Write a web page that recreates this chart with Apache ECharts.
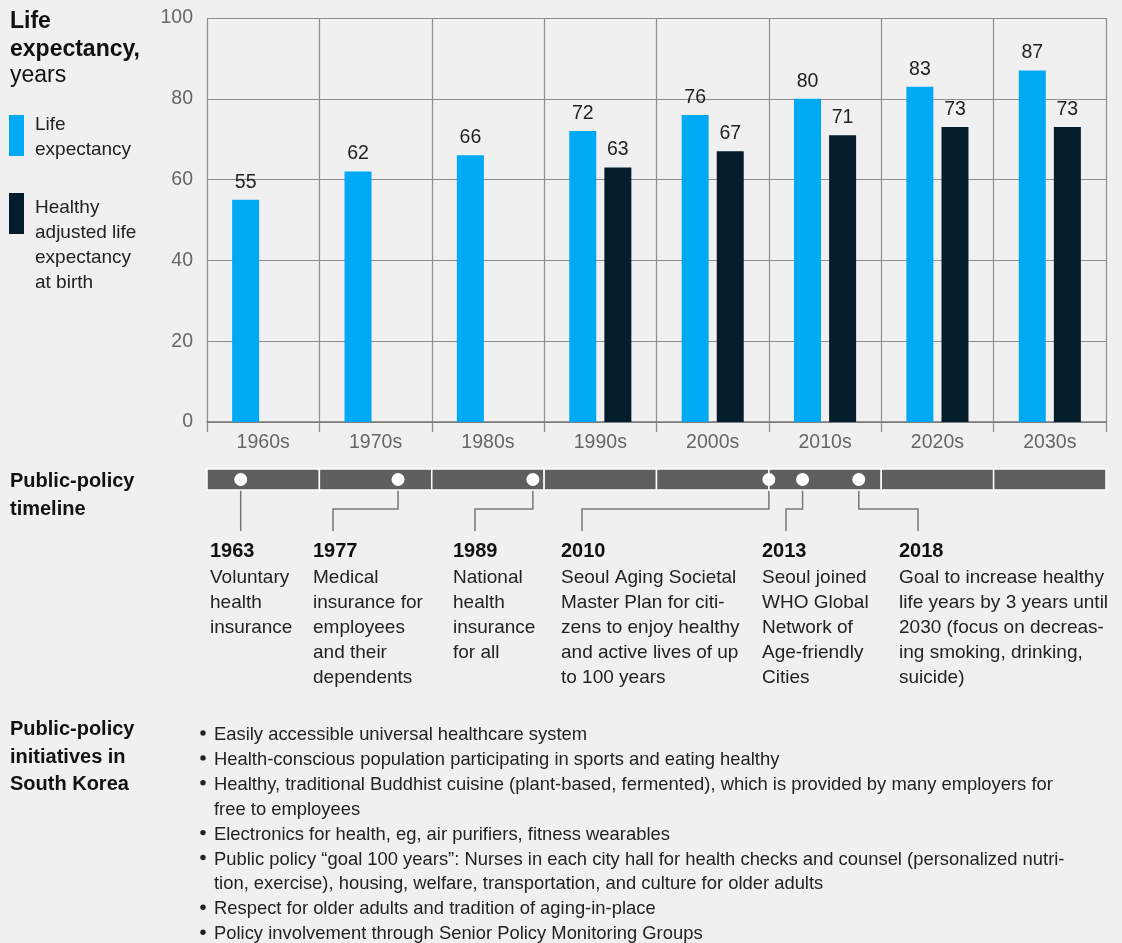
<!DOCTYPE html>
<html><head><meta charset="utf-8">
<script src="https://cdn.jsdelivr.net/npm/echarts@6/dist/echarts.min.js"></script>
<style>html,body{margin:0;padding:0;background:#f0f0f0}#c{width:1122px;height:943px}</style>
</head><body><div id="c"></div>
<script>
// ---- data ----
const categories = ['1960s','1970s','1980s','1990s','2000s','2010s','2020s','2030s'];
const lifeExpectancy = [55, 62, 66, 72, 76, 80, 83, 87];
const healthyLifeExpectancy = [null, null, null, 63, 67, 71, 73, 73];
const yTicks = [0, 20, 40, 60, 80, 100];
const decadeStarts = [1960, 1970, 1980, 1990, 2000, 2010, 2020, 2030];
const eventYears = [1963, 1977, 1989, 2010, 2013, 2018];
const eventTexts = [
  'Voluntary\nhealth\ninsurance',
  'Medical\ninsurance for\nemployees\nand their\ndependents',
  'National\nhealth\ninsurance\nfor all',
  'Seoul Aging Societal\nMaster Plan for citi-\nzens to enjoy healthy\nand active lives of up\nto 100 years',
  'Seoul joined\nWHO Global\nNetwork of\nAge-friendly\nCities',
  'Goal to increase healthy\nlife years by 3 years until\n2030 (focus on decreas-\ning smoking, drinking,\nsuicide)'
];
const initiatives = [
  'Easily accessible universal healthcare system',
  'Health-conscious population participating in sports and eating healthy',
  'Healthy, traditional Buddhist cuisine (plant-based, fermented), which is provided by many employers for\nfree to employees',
  'Electronics for health, eg, air purifiers, fitness wearables',
  'Public policy \u201cgoal 100 years\u201d: Nurses in each city hall for health checks and counsel (personalized nutri-\ntion, exercise), housing, welfare, transportation, and culture for older adults',
  'Respect for older adults and tradition of aging-in-place',
  'Policy involvement through Senior Policy Monitoring Groups'
];

// ---- layout (pixels) ----
const FONT = 'Liberation Sans';
const eventTextX = [210, 313, 453, 561, 762, 899];
const connectorX = [null, 333, 475, 582, 786, 918];
const COLORS = { life: '#00a9f4', healthy: '#051c2c', grid: '#8e8e8e', axisText: '#666666', text: '#222222' };

const chart = echarts.init(document.getElementById('c'), null, { renderer: 'canvas' });

const graphics = [];
// Left titles
graphics.push({ type: 'text', left: 10, top: 7.5, style: { text: 'Life\nexpectancy,', font: 'bold 23px ' + FONT, fill: '#111', lineHeight: 28 } });
graphics.push({ type: 'text', left: 10, top: 64, style: { text: 'years', font: '23px ' + FONT, fill: '#111' } });
// legend
graphics.push({ type: 'rect', shape: { x: 9, y: 115, width: 15, height: 41 }, style: { fill: COLORS.life } });
graphics.push({ type: 'text', left: 35, top: 112, style: { text: 'Life\nexpectancy', font: '19px ' + FONT, fill: '#222', lineHeight: 25 } });
graphics.push({ type: 'rect', shape: { x: 9, y: 193, width: 15, height: 41 }, style: { fill: COLORS.healthy } });
graphics.push({ type: 'text', left: 35, top: 195.5, style: { text: 'Healthy\nadjusted life\nexpectancy\nat birth', font: '19px ' + FONT, fill: '#222', lineHeight: 25 } });
// timeline title
graphics.push({ type: 'text', left: 10, top: 467, style: { text: 'Public-policy\ntimeline', font: 'bold 20px ' + FONT, fill: '#111', lineHeight: 28 } });
// event text
eventYears.forEach((yr, i) => {
  graphics.push({ type: 'text', left: eventTextX[i], top: 541.5, style: { text: String(yr), font: 'bold 20px ' + FONT, fill: '#111' } });
  graphics.push({ type: 'text', left: eventTextX[i], top: 565.5, style: { text: eventTexts[i], font: '19px ' + FONT, fill: '#222', lineHeight: 25 } });
});
// initiatives
graphics.push({ type: 'text', left: 10, top: 716, style: { text: 'Public-policy\ninitiatives in\nSouth Korea', font: 'bold 20px ' + FONT, fill: '#111', lineHeight: 27.5 } });
let line = 0;
initiatives.forEach((t) => {
  const y = 735 + line * 24.9;
  graphics.push({ type: 'circle', shape: { cx: 203, cy: y - 2, r: 2.7 }, style: { fill: '#222' } });
  graphics.push({ type: 'text', left: 214, top: y - 12.45, style: { text: t, font: '18.4px ' + FONT, fill: '#222', lineHeight: 24.9 } });
  line += t.split('\n').length;
});

const option = {
  backgroundColor: '#f0f0f0',
  animation: false,
  textStyle: { fontFamily: FONT },
  grid: [
    { left: 207, right: 16, top: 18, bottom: 521 },
    { left: 207, right: 16, top: 469, height: 21 }
  ],
  xAxis: [
    {
      type: 'category', data: categories, gridIndex: 0,
      axisLine: { lineStyle: { color: '#777', width: 1.5 } },
      axisTick: { show: true, length: 10, lineStyle: { color: '#888', width: 1.2 } },
      axisLabel: { color: COLORS.axisText, fontSize: 19.5, margin: 11, fontFamily: FONT },
      splitLine: { show: true, lineStyle: { color: COLORS.grid, width: 1.2 } }
    },
    { type: 'value', gridIndex: 1, min: 1960, max: 2040, show: false }
  ],
  yAxis: [
    {
      type: 'value', gridIndex: 0, min: 0, max: 100, interval: 20,
      axisLine: { show: false }, axisTick: { show: false },
      axisLabel: { color: COLORS.axisText, fontSize: 19.5, margin: 14, fontFamily: FONT,
        formatter: (v) => yTicks.includes(v) ? String(v) : '' },
      splitLine: { lineStyle: { color: COLORS.grid, width: 1.2 } }
    },
    { type: 'value', gridIndex: 1, min: 0, max: 1, show: false }
  ],
  series: [
    {
      name: 'Life expectancy', type: 'bar', data: lifeExpectancy, xAxisIndex: 0, yAxisIndex: 0,
      barWidth: 27, barGap: '30%', itemStyle: { color: COLORS.life },
      label: { show: true, position: 'top', distance: 7.5, color: COLORS.text, fontSize: 19.5, fontFamily: FONT }
    },
    {
      name: 'Healthy adjusted life expectancy at birth', type: 'bar', data: healthyLifeExpectancy, xAxisIndex: 0, yAxisIndex: 0,
      barWidth: 27, barGap: '30%', itemStyle: { color: COLORS.healthy },
      label: { show: true, position: 'top', distance: 7.5, color: COLORS.text, fontSize: 19.5, fontFamily: FONT }
    },
    {
      type: 'custom', xAxisIndex: 1, yAxisIndex: 1, silent: true,
      data: decadeStarts.map((d) => [d, d + 10]),
      renderItem: (params, api) => {
        const s = api.coord([api.value(0), 0]);
        const e = api.coord([api.value(1), 1]);
        return { type: 'rect', shape: { x: s[0], y: e[1], width: e[0] - s[0], height: s[1] - e[1] },
          style: { fill: '#5f5f5f', stroke: '#ffffff', lineWidth: 1.5 } };
      }
    },
    {
      type: 'custom', xAxisIndex: 1, yAxisIndex: 1, silent: true, z: 1,
      data: eventYears.map((y) => [y]),
      renderItem: (params, api) => {
        const p = api.coord([api.value(0), 0]);
        const cx = connectorX[params.dataIndex];
        const pts = cx == null
          ? [[p[0], p[1]], [p[0], 531]]
          : [[p[0], p[1]], [p[0], 509], [cx, 509], [cx, 531]];
        return { type: 'polyline', shape: { points: pts }, style: { stroke: '#777', lineWidth: 1.5, fill: null } };
      }
    },
    {
      type: 'scatter', xAxisIndex: 1, yAxisIndex: 1, silent: true, z: 5,
      data: eventYears.map((y) => [y, 0.5]),
      symbol: 'circle', symbolSize: 13, itemStyle: { color: '#ffffff', opacity: 1 }
    }
  ],
  graphic: graphics
};
chart.setOption(option);
</script>
</body></html>
